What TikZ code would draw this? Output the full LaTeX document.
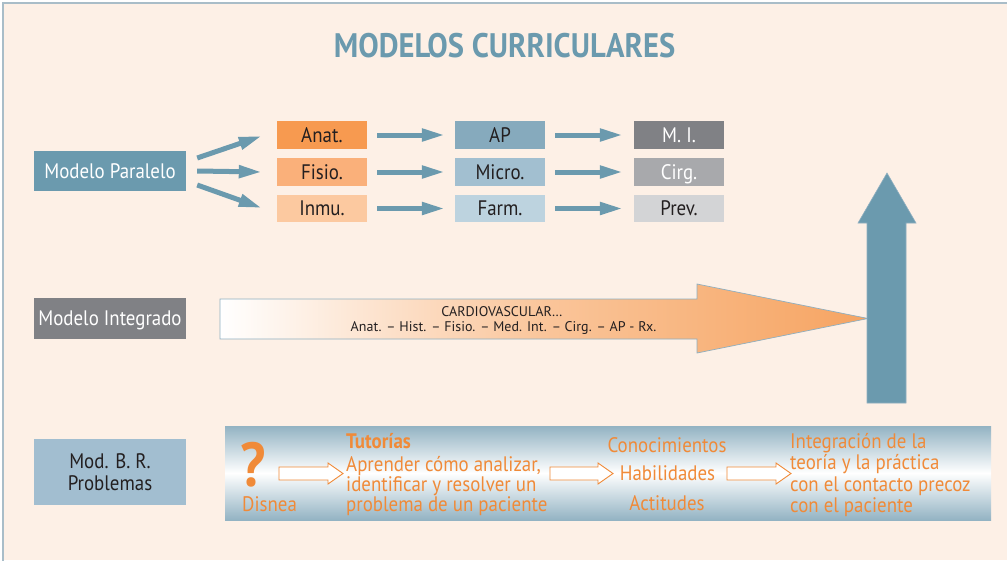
\documentclass[tikz,border=0pt]{standalone}
\usepackage{fontspec}
\setmainfont{PT Sans}[FakeStretch=0.9]
\newfontfamily\titlefont{PT Sans}[FakeStretch=0.9]
\newfontfamily\widefont{PT Sans}
\usetikzlibrary{arrows.meta,calc}
\definecolor{bg}{HTML}{FDF0E6}
\definecolor{framec}{HTML}{A9BDC8}
\definecolor{steel}{HTML}{6B9AAE}
\definecolor{anatc}{HTML}{F79A50}
\definecolor{fisioc}{HTML}{FAB07A}
\definecolor{inmuc}{HTML}{FCC9A0}
\definecolor{apc}{HTML}{86AABD}
\definecolor{microc}{HTML}{A2BFD0}
\definecolor{farmc}{HTML}{BDD3DF}
\definecolor{mic}{HTML}{808185}
\definecolor{cirgc}{HTML}{A8A9AC}
\definecolor{prevc}{HTML}{D3D4D6}
\definecolor{mbrc}{HTML}{A2BED0}
\definecolor{otxt}{HTML}{F08A38}
\definecolor{darktxt}{HTML}{231F20}
\definecolor{bandc}{HTML}{93B3C3}
\definecolor{orA}{HTML}{F6A462}
\definecolor{orM}{HTML}{FAC59A}
\definecolor{arrline}{HTML}{8FAFC0}
\tikzset{
  box/.style={minimum width=90pt, minimum height=28pt, inner sep=0pt,
    text height=14.5pt, text depth=0pt, text=darktxt,
    font=\fontsize{21}{22}\selectfont},
  lbox/.style={box, minimum width=152pt, minimum height=40pt},
  parr/.style={draw=steel, line width=5pt, -{Triangle[length=23pt,width=12pt]}},
  hollow/.style={draw=otxt, fill=white, line width=0.9pt, line join=miter},
  otext/.style={text=otxt, inner sep=0pt, font=\fontsize{21}{22}\selectfont},
  itext/.style={text=darktxt, inner sep=0pt, anchor=base, font=\widefont\fontsize{14}{16}\selectfont}
}
\newcommand\hollowarrow[2]{%
  \draw[hollow] (#1,467) -- ({#2-15},467) -- ({#2-15},463) -- (#2,473.5)
    -- ({#2-15},484) -- ({#2-15},480) -- (#1,480) -- cycle;}
\begin{document}
\begin{tikzpicture}[x=1pt,y=-1pt]
\useasboundingbox (0,0) rectangle (1007,560);
\fill[white] (0,0) rectangle (1007,560);
\fill[bg] (3,3) rectangle (1007,560);
\draw[framec, line width=1.4pt] (3,563) -- (3,3) -- (1010,3);
% title
\node[anchor=base, inner sep=0pt, text=steel, font=\titlefont\bfseries\fontsize{34}{36}\selectfont] (title) at (504.5,57) {MODELOS CURRICULARES};
% paralelo
\node[lbox, fill=steel, text=white] (mp) at (110,171) {Modelo Paralelo};
\node[box, fill=anatc] (anat) at (322,135) {Anat.};
\node[box, fill=fisioc] (fisio) at (322,172) {Fisio.};
\node[box, fill=inmuc, minimum height=27pt] (inmu) at (322,208.5) {Inmu.};
\node[box, fill=apc] (ap) at (500,135) {AP};
\node[box, fill=microc] (micro) at (500,172) {Micro.};
\node[box, fill=farmc, minimum height=27pt] (farm) at (500,208.5) {Farm.};
\node[box, fill=mic, text=white] (mi) at (679,135) {M. I.};
\node[box, fill=cirgc, text=white] (cirg) at (679,172) {Cirg.};
\node[box, fill=prevc, minimum height=27pt] (prev) at (679,208.5) {Prev.};
\draw[parr] ([xshift=11pt,yshift=13pt]mp.east) -- ([xshift=-15pt,yshift=-1pt]anat.west);
\draw[parr] ([xshift=11pt]mp.east) -- ([xshift=-15pt]fisio.west);
\draw[parr] ([xshift=11pt,yshift=-14pt]mp.east) -- ([xshift=-15pt,yshift=0.5pt]inmu.west);
\foreach \a/\b in {anat/ap,fisio/micro,inmu/farm}{
  \draw[parr] ([xshift=10pt]\a.east) -- ([xshift=-10pt]\b.west);}
\foreach \a/\b in {ap/mi,micro/cirg,farm/prev}{
  \draw[parr] ([xshift=10pt]\a.east) -- ([xshift=-11pt]\b.west);}
% integrado
\node[lbox, fill=mic, text=white, minimum height=41pt] (mint) at (110,318.5) {Modelo Integrado};
\shadedraw[draw=arrline, line width=0.7pt, left color=white, right color=orA, middle color=orM]
  (220,299) -- (697,299) -- (697,284) -- (868,318.5) -- (697,353) -- (697,339) -- (220,339) -- cycle;
\node[itext] (card) at (502,316) {CARDIOVASCULAR…};
\node[itext] (subj) at (503.5,331) {Anat. – Hist. – Fisio. – Med. Int. – Cirg. – AP - Rx.};
\filldraw[fill=steel, draw=arrline, line width=0.6pt]
  (867,403) -- (906,403) -- (906,223) -- (916,223) -- (887,173) -- (858,223) -- (867,223) -- cycle;
% problemas
\node[lbox, fill=mbrc, minimum height=66pt, text height=, text depth=, align=center,
  font=\fontsize{21}{22.5}\selectfont] (mbr) at (110,472) {Mod. B. R.\\Problemas};
\shade[top color=bandc, bottom color=bandc, middle color=white] (225,426) rectangle (991,520);
\node[otext, anchor=base, text height=44pt, text depth=0pt, font=\bfseries\fontsize{62}{62}\selectfont] (q) at (253,486) {?};
\node[otext, anchor=base west] (dis) at (242,511) {Disnea};
\node[otext, anchor=base west, font=\bfseries\fontsize{21}{22}\selectfont] (tut) at (346,448) {Tutorías};
\node[otext, anchor=base west] (t1) at (346,471) {Aprender cómo analizar,};
\node[otext, anchor=base west] (t2) at (346,491) {identificar y resolver un};
\node[otext, anchor=base west] (t3) at (346,511) {problema de un paciente};
\node[otext, anchor=base] (con) at (667,452) {Conocimientos};
\node[otext, anchor=base] (hab) at (667.5,480) {Habilidades};
\node[otext, anchor=base] (act) at (667,510) {Actitudes};
\node[otext, anchor=base west] (i1) at (790,448) {Integración de la};
\node[otext, anchor=base west] (i2) at (790,469) {teoría y la práctica};
\node[otext, anchor=base west] (i3) at (790,491) {con el contacto precoz};
\node[otext, anchor=base west] (i4) at (790,512) {con el paciente};
\hollowarrow{279}{343}
\hollowarrow{550}{613}
\hollowarrow{727}{791}
\end{tikzpicture}
\end{document}
